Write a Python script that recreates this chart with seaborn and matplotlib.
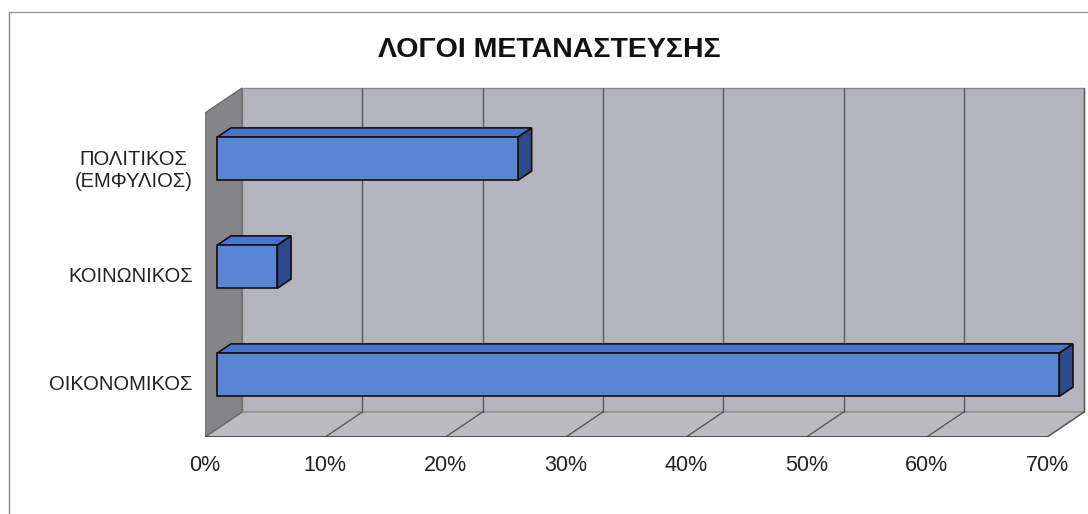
"""
Excel-style 3D horizontal bar chart: ΛΟΓΟΙ ΜΕΤΑΝΑΣΤΕΥΣΗΣ
"""

import matplotlib.pyplot as plt
import matplotlib.font_manager as fm
import numpy as np
import pandas as pd
import seaborn as sns
from matplotlib.patches import Polygon

# ── Data ─────────────────────────────────────────────────────────────────────
CATEGORIES = ["ΠΟΛΙΤΙΚΟΣ\n(ΕΜΦΥΛΙΟΣ)", "ΚΟΙΝΩΝΙΚΟΣ", "ΟΙΚΟΝΟΜΙΚΟΣ"]
VALUES = [25, 5, 70]
X_TICKS = [0, 10, 20, 30, 40, 50, 60, 70]
X_TICK_LABELS = [f"{t}%" for t in X_TICKS]
TITLE = "ΛΟΓΟΙ ΜΕΤΑΝΑΣΤΕΥΣΗΣ"

# ── Styling / 3D geometry ────────────────────────────────────────────────────
W, H = 1088, 514
PX_PER_PCT = 12.03
PX_PER_CAT = 108.0
DX = 37 / PX_PER_PCT          # depth offset along x (data units)
DY = -25 / PX_PER_CAT         # depth offset along y (inverted axis → up)
BAR_F0, BAR_F1 = 0.33, 0.70   # bar front/back depth fractions

WALL = "#b4b4bd"
FLOOR = "#bcbcc0"
SIDE_WALL = "#858589"
EDGE = "#5a5a5a"
BAR_FRONT = "#5a84d4"
BAR_TOP = "#4a74cc"
BAR_SIDE = "#2e4a8a"

names = {f.name for f in fm.fontManager.ttflist}
title_font = "Liberation Sans Narrow" if "Liberation Sans Narrow" in names else "Liberation Sans"

sns.set_style("white")
plt.rcParams["font.family"] = ["Liberation Sans", "DejaVu Sans"]

fig = plt.figure(figsize=(W / 100, H / 100), dpi=100)
left, bottom, right, top = 205, 437, 1090, 85
ax = fig.add_axes([left / W, 1 - bottom / H, (right - left) / W, (bottom - top) / H])

df = pd.DataFrame({"cat": CATEGORIES, "val": VALUES})
sns.barplot(data=df, x="val", y="cat", orient="h", width=0.4, ax=ax, saturation=1,
            color=BAR_FRONT, edgecolor="#111111", linewidth=1.2, zorder=5)

n = len(CATEGORIES)
xmax = X_TICKS[-1]
y0, y1 = -0.5, n - 0.5
ax.set_xlim(0, (right - left) / PX_PER_PCT)
ax.set_ylim(y1, y1 - (bottom - top) / PX_PER_CAT)

# back wall
ax.add_patch(Polygon([(DX, y0 + DY), (xmax + DX, y0 + DY), (xmax + DX, y1 + DY), (DX, y1 + DY)],
                     closed=True, facecolor=WALL, edgecolor="#8a8a8a", lw=1, zorder=1))
# floor
ax.add_patch(Polygon([(0, y1), (xmax, y1), (xmax + DX, y1 + DY), (DX, y1 + DY)],
                     closed=True, facecolor=FLOOR, edgecolor="#8a8a8a", lw=1, zorder=1))
# left side wall
ax.add_patch(Polygon([(0, y0), (DX, y0 + DY), (DX, y1 + DY), (0, y1)],
                     closed=True, facecolor=SIDE_WALL, edgecolor="#6a6a6a", lw=1, zorder=1))

# gridlines on back wall + floor
for t in X_TICKS[1:]:
    ax.plot([t + DX, t + DX], [y0 + DY, y1 + DY], color=EDGE, lw=1, zorder=2)
    ax.plot([t, t + DX], [y1, y1 + DY], color=EDGE, lw=1, zorder=2)
ax.plot([0, xmax], [y1, y1], color="#444444", lw=1.2, zorder=2)

# 3D bar faces
ddx, ddy = (BAR_F1 - BAR_F0) * DX, (BAR_F1 - BAR_F0) * DY
for p in ax.patches[:n]:
    p.set_x(p.get_x() + BAR_F0 * DX)
    p.set_y(p.get_y() + BAR_F0 * DY)
    xa, xb = p.get_x(), p.get_x() + p.get_width()
    yt, yb = p.get_y(), p.get_y() + p.get_height()
    ax.add_patch(Polygon([(xa, yt), (xb, yt), (xb + ddx, yt + ddy), (xa + ddx, yt + ddy)],
                         closed=True, facecolor=BAR_TOP, edgecolor="#111111", lw=1.2, zorder=4))
    ax.add_patch(Polygon([(xb, yt), (xb + ddx, yt + ddy), (xb + ddx, yb + ddy), (xb, yb)],
                         closed=True, facecolor=BAR_SIDE, edgecolor="#111111", lw=1.2, zorder=4))

# ticks
for s in ax.spines.values():
    s.set_visible(False)
ax.set_xticks(X_TICKS, X_TICK_LABELS, fontsize=15.5, color="#222222")
ax.tick_params(axis="x", length=6, width=1, color="#555555", pad=7, direction="out")
ax.set_yticks(range(n), CATEGORIES, fontsize=14.5, color="#222222", multialignment="center")
ax.tick_params(axis="y", which="major", length=0, pad=9)
ax.set_yticks(np.arange(n + 1) - 0.5, minor=True)
ax.tick_params(axis="y", which="minor", length=6, width=1, color="#777777")
ax.set_xlabel("")
ax.set_ylabel("")

fig.text(549 / W, 1 - 50 / H, TITLE, ha="center", va="center", fontsize=20.5,
         fontweight="bold", family=[title_font, "DejaVu Sans"], color="#111111")

# outer chart frame
fig.add_artist(plt.Line2D([9 / W, 1], [1 - 12 / H, 1 - 12 / H], color="#999999", lw=1))
fig.add_artist(plt.Line2D([9 / W, 9 / W], [0, 1 - 12 / H], color="#888888", lw=1))

fig.savefig("out.png", dpi=100, facecolor="white")
